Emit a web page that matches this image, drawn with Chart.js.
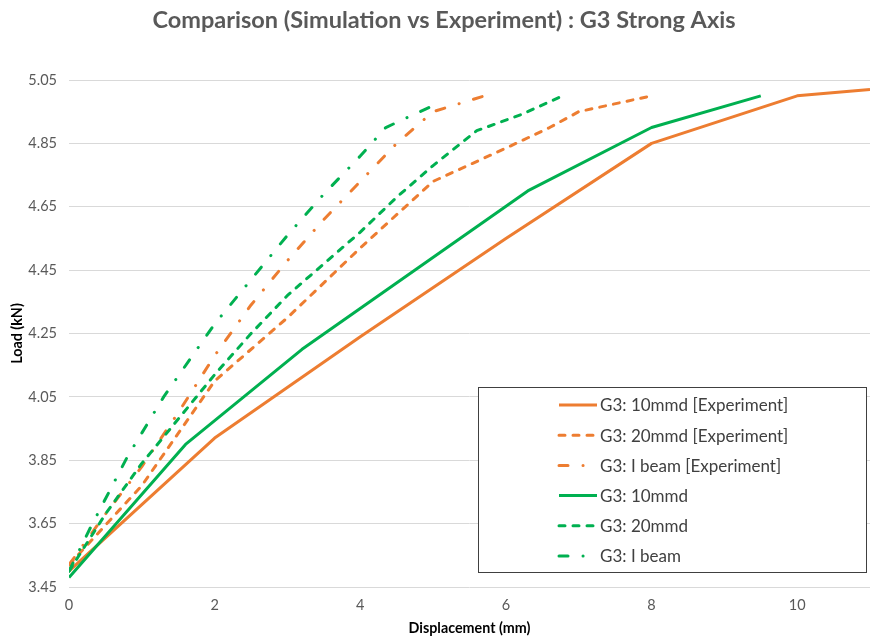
<!DOCTYPE html>
<html>
<head>
<meta charset="utf-8">
<script src="https://cdn.jsdelivr.net/npm/chart.js@4/dist/chart.umd.min.js"></script>
<style>
  html, body { margin: 0; padding: 0; background: #ffffff; }
  #wrap { width: 876px; height: 642px; position: relative; }
</style>
</head>
<body>
<div id="wrap"><canvas id="c" width="876" height="642"></canvas></div>
<script>
// ---- Data ----
const chartTitle = "Comparison (Simulation vs Experiment) : G3 Strong Axis";
const xAxisTitle = "Displacement (mm)";
const yAxisTitle = "Load (kN)";

const seriesLabels = [
  "G3: 10mmd [Experiment]",
  "G3: 20mmd [Experiment]",
  "G3: I beam [Experiment]",
  "G3: 10mmd",
  "G3: 20mmd",
  "G3: I beam"
];

const exp10X = [0, 2, 4, 6, 8, 10, 11];
const exp10Y = [3.50, 3.92, 4.24, 4.55, 4.85, 5.00, 5.02];

const exp20X = [0, 1, 2, 3, 4, 5, 6, 6.6, 7, 8];
const exp20Y = [3.52, 3.77, 4.10, 4.30, 4.52, 4.73, 4.835, 4.90, 4.95, 5.00];

const expIX = [0, 0.5, 1, 1.5, 2, 2.5, 3, 3.5, 4, 4.5, 5, 5.85];
const expIY = [3.52, 3.68, 3.83, 4.00, 4.18, 4.34, 4.48, 4.61, 4.73, 4.85, 4.95, 5.01];

const sim10X = [0, 1.6, 3.2, 6.3, 8, 9.5];
const sim10Y = [3.48, 3.90, 4.20, 4.70, 4.90, 5.00];

const sim20X = [0, 0.5, 1, 1.5, 2, 2.5, 3, 3.5, 4, 4.5, 5, 5.6, 6.2, 6.78];
const sim20Y = [3.50, 3.68, 3.84, 3.98, 4.12, 4.25, 4.37, 4.47, 4.57, 4.68, 4.78, 4.89, 4.94, 5.00];

const simIX = [0, 0.3, 0.8, 1.3, 2, 2.5, 3, 3.5, 4, 4.35, 5.1];
const simIY = [3.50, 3.64, 3.86, 4.05, 4.28, 4.42, 4.56, 4.69, 4.81, 4.90, 4.98];

const xTickValues = [0, 2, 4, 6, 8, 10];
const yTickValues = [3.45, 3.65, 3.85, 4.05, 4.25, 4.45, 4.65, 4.85, 5.05];

// ---- Styles ----
const ORANGE = "#ED7D31";
const GREEN = "#00B050";
const DASH = [6, 8];
const DASHDOT = [9, 15, 0.1, 15];

function pts(xs, ys) { return xs.map((x, i) => ({ x: x, y: ys[i] })); }

const seriesData = [
  pts(exp10X, exp10Y), pts(exp20X, exp20Y), pts(expIX, expIY),
  pts(sim10X, sim10Y), pts(sim20X, sim20Y), pts(simIX, simIY)
];
const seriesColors = [ORANGE, ORANGE, ORANGE, GREEN, GREEN, GREEN];
const seriesDash = [[], DASH, DASHDOT, [], DASH, DASHDOT];
const seriesCap = ["butt", "round", "round", "butt", "round", "round"];

const datasets = seriesLabels.map((lab, i) => ({
  label: lab,
  data: seriesData[i],
  borderColor: seriesColors[i],
  backgroundColor: seriesColors[i],
  borderWidth: 3,
  borderDash: seriesDash[i],
  borderCapStyle: seriesCap[i],
  borderJoinStyle: "round",
  pointRadius: 0,
  pointHoverRadius: 0,
  tension: 0,
  fill: false,
  order: seriesLabels.length - i
}));

// Custom boxed legend drawn inside the plot area (bottom-right)
const boxLegend = {
  id: "boxLegend",
  afterDraw(chart) {
    const ctx = chart.ctx;
    const ca = chart.chartArea;
    const bx = ca.right - 392, by = ca.bottom - 200, bw = 388, bh = 185;
    ctx.save();
    ctx.fillStyle = "#ffffff";
    ctx.fillRect(bx, by, bw, bh);
    ctx.strokeStyle = "#404040";
    ctx.lineWidth = 1;
    ctx.strokeRect(bx + 0.5, by + 0.5, bw, bh);
    const ds = chart.data.datasets;
    ctx.font = "17px Lato";
    ctx.textBaseline = "middle";
    ctx.textAlign = "left";
    for (let i = 0; i < ds.length; i++) {
      const y = by + 18 + i * 30.2;
      const x0 = bx + 81, x1 = bx + 119;
      ctx.beginPath();
      ctx.strokeStyle = ds[i].borderColor;
      ctx.lineWidth = ds[i].borderWidth;
      ctx.setLineDash(ds[i].borderDash);
      ctx.lineCap = ds[i].borderCapStyle;
      ctx.moveTo(x0, y);
      ctx.lineTo(x1, y);
      ctx.stroke();
      ctx.setLineDash([]);
      ctx.fillStyle = "#404040";
      ctx.fillText(ds[i].label, bx + 122, y + 1);
    }
    ctx.restore();
  }
};

new Chart(document.getElementById("c"), {
  type: "line",
  data: { datasets: datasets },
  options: {
    responsive: false,
    animation: false,
    devicePixelRatio: 1,
    layout: { padding: { left: 18, right: 6, top: 0, bottom: 0 } },
    plugins: {
      legend: { display: false },
      tooltip: { enabled: false },
      title: {
        display: true,
        text: chartTitle,
        color: "#595959",
        font: { family: "Lato", size: 23.5, weight: "bold" },
        padding: { top: 6, bottom: 45.8 }
      }
    },
    scales: {
      x: {
        type: "linear",
        min: 0,
        max: 11,
        afterBuildTicks: (s) => { s.ticks = xTickValues.map(v => ({ value: v })); },
        afterFit: (s) => { s.height = 55; },
        ticks: {
          color: "#595959",
          font: { family: "Lato", size: 14.5 },
          padding: 10,
          maxRotation: 0,
          callback: (v) => String(v)
        },
        grid: { display: false, drawTicks: false },
        border: { display: false },
        title: {
          display: true,
          text: xAxisTitle,
          color: "#000000",
          font: { family: "Lato", size: 14.3, weight: "bold" },
          padding: { top: 4, bottom: 5 }
        }
      },
      y: {
        type: "linear",
        min: 3.45,
        max: 5.05,
        afterBuildTicks: (s) => { s.ticks = yTickValues.map(v => ({ value: v })); },
        afterFit: (s) => { s.width = 51; },
        ticks: {
          color: "#595959",
          font: { family: "Lato", size: 14.5 },
          padding: 12,
          callback: (v) => Number(v).toFixed(2)
        },
        grid: { color: "#d9d9d9", lineWidth: 1, drawTicks: false },
        border: { display: false },
        title: {
          display: true,
          text: yAxisTitle,
          color: "#000000",
          font: { family: "Lato", size: 14.3, weight: "bold" },
          padding: { top: -9, bottom: 0 }
        }
      }
    }
  },
  plugins: [boxLegend]
});
</script>
</body>
</html>
